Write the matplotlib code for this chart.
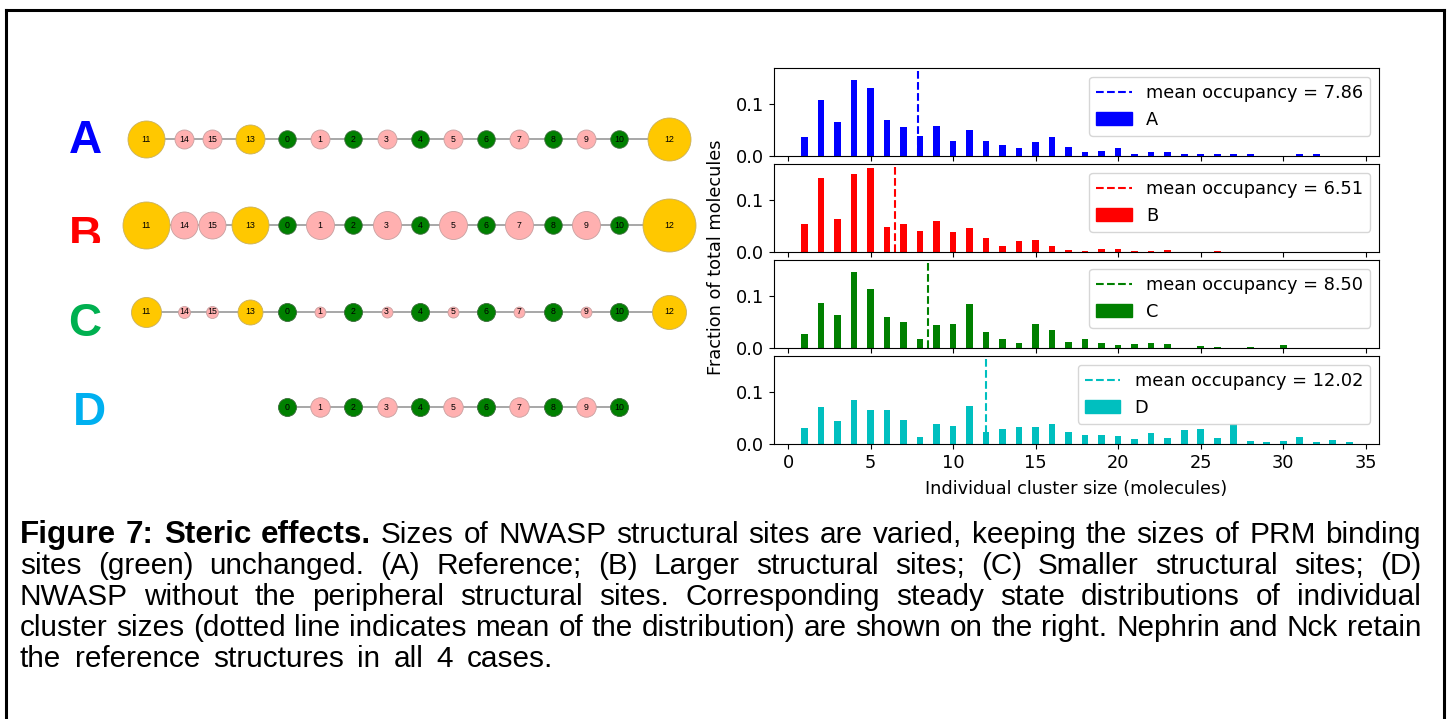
import matplotlib
matplotlib.use("Agg")
import matplotlib.pyplot as plt
import numpy as np
from matplotlib.lines import Line2D
from matplotlib.patches import Patch
from matplotlib.transforms import Bbox, TransformedBbox

W, H, DPI = 1450, 719, 100

# ---------------- histogram data ----------------
cluster_size = list(range(1, 35))
frac_A = [0.036, 0.107, 0.066, 0.146, 0.131, 0.069, 0.055, 0.038, 0.057, 0.028,
          0.050, 0.028, 0.021, 0.015, 0.027, 0.036, 0.017, 0.007, 0.010, 0.015,
          0.003, 0.007, 0.007, 0.003, 0.003, 0.003, 0.003, 0.003, 0.0, 0.0,
          0.003, 0.003, 0.0, 0.0]
frac_B = [0.053, 0.143, 0.064, 0.149, 0.162, 0.048, 0.053, 0.040, 0.060, 0.039,
          0.047, 0.027, 0.012, 0.022, 0.024, 0.011, 0.003, 0.001, 0.005, 0.005,
          0.001, 0.001, 0.003, 0.0, 0.0, 0.002, 0.0, 0.0, 0.0, 0.0,
          0.0, 0.0, 0.0, 0.0]
frac_C = [0.026, 0.087, 0.063, 0.145, 0.113, 0.059, 0.050, 0.017, 0.045, 0.047,
          0.084, 0.030, 0.018, 0.010, 0.047, 0.034, 0.011, 0.018, 0.009, 0.005,
          0.007, 0.010, 0.008, 0.0, 0.003, 0.001, 0.0, 0.001, 0.0, 0.005,
          0.0, 0.0, 0.0, 0.0]
frac_D = [0.030, 0.071, 0.045, 0.085, 0.066, 0.065, 0.046, 0.014, 0.039, 0.034,
          0.073, 0.024, 0.028, 0.032, 0.033, 0.039, 0.024, 0.017, 0.018, 0.015,
          0.009, 0.022, 0.012, 0.026, 0.028, 0.011, 0.039, 0.006, 0.003, 0.006,
          0.014, 0.003, 0.007, 0.003]
case_names = ["A", "B", "C", "D"]
mean_occupancy = [7.86, 6.51, 8.50, 12.02]
case_colors = ["b", "r", "g", "c"]
x_ticks = [0, 5, 10, 15, 20, 25, 30, 35]
y_ticks = [0.0, 0.1]

# ---------------- molecule diagram data ----------------
site_labels = ["11", "14", "15", "13", "0", "1", "2", "3", "4", "5", "6", "7", "8", "9", "10", "12"]
site_kind = ["s", "p", "p", "s", "g", "p", "g", "p", "g", "p", "g", "p", "g", "p", "g", "s"]
nan = float("nan")
diam_A = [37, 19, 19, 29, 17.5, 19, 17.5, 19, 17.5, 19, 17.5, 19, 17.5, 19, 17.5, 43]
diam_B = [47, 27, 27, 37, 17.5, 28, 17.5, 28, 17.5, 28, 17.5, 28, 17.5, 28, 17.5, 53]
diam_C = [30, 12, 12, 25, 18, 11, 18, 11, 18, 11, 18, 11, 18, 11, 18, 34]
diam_D = [nan, nan, nan, nan, 18, 19.5, 18, 19.5, 18, 19.5, 18, 19.5, 18, 19.5, 18, nan]
row_letter_colors = ["#0000FF", "#FF0000", "#00B050", "#00B0F0"]

caption_lines = [
    "Sizes of NWASP structural sites are varied, keeping the sizes of PRM binding",
    "sites (green) unchanged. (A) Reference; (B) Larger structural sites; (C) Smaller structural sites; (D)",
    "NWASP without the peripheral structural sites. Corresponding steady state distributions of individual",
    "cluster sizes (dotted line indicates mean of the distribution) are shown on the right. Nephrin and Nck retain",
    "the reference structures in all 4 cases.",
]
caption_bold = "Figure 7: Steric effects."

# ================= figure =================
fig = plt.figure(figsize=(W / DPI, H / DPI), dpi=DPI)
fig.patch.set_facecolor("white")

# pixel-space background axes for diagram, caption and border
bg = fig.add_axes([0, 0, 1, 1])
bg.set_xlim(0, W)
bg.set_ylim(H, 0)
bg.axis("off")

# border
bcol = "black"
bg.plot([6, 6], [H + 5, 10], color=bcol, lw=2.2, solid_capstyle="projecting")
bg.plot([6, 1444], [10, 10], color=bcol, lw=2.2, solid_capstyle="projecting")
bg.plot([1444, 1444], [10, H + 5], color=bcol, lw=2.2, solid_capstyle="projecting")

# ---------- molecule diagrams ----------
site_x = [146, 184, 212, 250] + [287 + 33.2 * k for k in range(11)] + [669]
row_y = [139, 225, 312, 407]
kind_color = {"s": "#FFC800", "p": "#FFB0B0", "g": "#008000"}
kind_edge = {"s": "#C8B060", "p": "#C8A0A0", "g": "#3A6A3A"}
for diam, y in zip([diam_A, diam_B, diam_C, diam_D], row_y):
    xs = [x for x, d in zip(site_x, diam) if not np.isnan(d)]
    bg.plot([min(xs), max(xs)], [y, y], color="#A0A0A0", lw=1.3, zorder=1)
    for x, d, lab, k in zip(site_x, diam, site_labels, site_kind):
        if np.isnan(d):
            continue
        bg.scatter([x], [y], s=(d * 72 / DPI) ** 2, color=kind_color[k],
                   edgecolors=kind_edge[k], linewidths=0.6, zorder=2)
        bg.text(x, y, lab, fontsize=6.3, ha="center", va="center", zorder=3,
                family=["Liberation Sans", "DejaVu Sans"], color="black")

letter_y = [141, 237, 324, 413]
letter_x = [85, 85, 85, 89]
for name, col, lx, ly in zip(case_names, row_letter_colors, letter_x, letter_y):
    t = bg.text(lx, ly, name, fontsize=33, fontweight="bold", color=col,
                ha="center", va="center", family=["Liberation Sans", "DejaVu Sans"])
    if name == "B":
        clip = TransformedBbox(Bbox([[0, 0], [W, 243]]), bg.transData)
        t.set_clip_box(clip)
        t.set_clip_on(True)

# ---------- histograms ----------
ax_left = 774 / W
ax_w = 605 / W
ax_h = 88 / H
tops = [68, 164, 260, 356]
axes = []
for i, top in enumerate(tops):
    kw = {}
    if axes:
        kw = dict(sharex=axes[0], sharey=axes[0])
    ax = fig.add_axes([ax_left, 1 - (top + 88) / H, ax_w, ax_h], **kw)
    axes.append(ax)

all_fracs = [frac_A, frac_B, frac_C, frac_D]
FS = 12.8
for ax, fr, name, m, col in zip(axes, all_fracs, case_names, mean_occupancy, case_colors):
    ax.bar(cluster_size, fr, width=0.4, color=col, label=name)
    ax.axvline(m, color=col, ls="--", lw=1.5, label="mean occupancy = %.2f" % m)
    ax.set_yticks(y_ticks)
    ax.set_xticks(x_ticks)
    ax.tick_params(labelsize=FS)
    h_line = Line2D([0], [0], color=col, ls="--", lw=1.5)
    h_bar = Patch(color=col)
    ax.legend([h_line, h_bar], ["mean occupancy = %.2f" % m, name],
              loc="upper right", fontsize=FS)
axes[0].set_xlim(-0.85, 35.8)
axes[0].set_ylim(0, 0.169)
for ax in axes[:-1]:
    ax.tick_params(labelbottom=False)
axes[-1].set_xlabel("Individual cluster size (molecules)", fontsize=FS, labelpad=6)
fig.text(716 / W, 1 - 257 / H, "Fraction of total molecules", rotation=90,
         ha="center", va="center", fontsize=FS)

# ---------- caption (justified) ----------
cap_fs = 21.4
cap_bold_fs = 22.6
cap_family = ["Liberation Sans", "DejaVu Sans"]
x0, x1 = 20, 1421
last_end = 553
base0, pitch = 543, 31
fig.canvas.draw()
rend = fig.canvas.get_renderer()
for li, line in enumerate(caption_lines):
    words = []
    if li == 0:
        words += [(w, "bold") for w in caption_bold.split()]
    words += [(w, "normal") for w in line.split()]
    y = base0 + li * pitch
    texts = []
    widths = []
    for w, wt in words:
        fs = cap_bold_fs if wt == "bold" else cap_fs
        t = bg.text(0, y, w, fontsize=fs, fontweight=wt, family=cap_family,
                    ha="left", va="baseline", color="black")
        texts.append(t)
        widths.append(t.get_window_extent(rend).width)
    right = x1 if li < len(caption_lines) - 1 else last_end
    gap = (right - x0 - sum(widths)) / (len(words) - 1)
    x = x0
    for t, wd in zip(texts, widths):
        t.set_x(x)
        x += wd + gap

fig.savefig("out.png", dpi=DPI)
